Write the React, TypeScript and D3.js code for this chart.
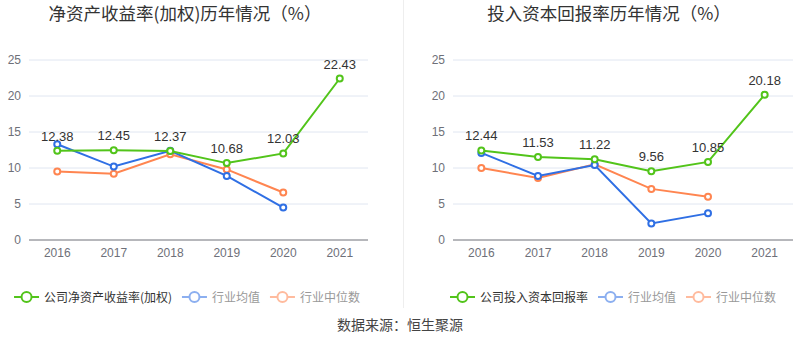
import React from "react";
import * as d3 from "d3";

const years = ["2016", "2017", "2018", "2019", "2020", "2021"];
const yTicks = [0, 5, 10, 15, 20, 25];

const roeCompany = [12.38, 12.45, 12.37, 10.68, 12.03, 22.43];
const roeMean = [13.3, 10.2, 12.4, 8.9, 4.5];
const roeMedian = [9.5, 9.2, 11.9, 9.8, 6.6];

const roicCompany = [12.44, 11.53, 11.22, 9.56, 10.85, 20.18];
const roicMean = [12.1, 8.9, 10.4, 2.3, 3.7];
const roicMedian = [10.0, 8.6, 10.5, 7.1, 6.0];

const GREEN = "#52c41a";
const BLUE = "#2f6fe4";
const ORANGE = "#ff8550";
const FONT = "'Liberation Sans', Arial, 'Noto Sans CJK SC', sans-serif";
const CJK = "'Noto Sans CJK SC', 'Liberation Sans', sans-serif";

function textW(s: string, size: number) {
  let w = 0;
  for (const ch of s) {
    w += /[\u0000-\u00ff]/.test(ch) ? size * 0.33 : size;
  }
  return w;
}

type ChartProps = {
  x0: number;
  x1: number;
  title: string;
  titleCx: number;
  legendCx: number;
  company: number[];
  mean: number[];
  median: number[];
  companyName: string;
};

function Chart({ x0, x1, title, titleCx, legendCx, company, mean, median, companyName }: ChartProps) {
  const x = d3.scaleBand<string>().domain(years).range([x0, x1]);
  const cx = (i: number) => (x(years[i]) as number) + x.bandwidth() / 2;
  const y = d3.scaleLinear().domain([0, 25]).range([240, 60]);
  const line = d3
    .line<number>()
    .x((_, i) => cx(i))
    .y((d) => y(d));

  const series = [
    { data: median, color: ORANGE },
    { data: mean, color: BLUE },
    { data: company, color: GREEN },
  ];

  const legendItems = [
    { name: companyName, color: GREEN, faded: false },
    { name: "行业均值", color: BLUE, faded: true },
    { name: "行业中位数", color: ORANGE, faded: true },
  ];
  const widths = legendItems.map((it) => 30 + textW(it.name, 12));
  const total = d3.sum(widths) + 10 * (legendItems.length - 1);
  let lx = legendCx - total / 2;
  const legendPos = widths.map((w) => {
    const p = lx;
    lx += w + 10;
    return p;
  });

  return (
    <g>
      <text x={titleCx} y={20} textAnchor="middle" fontSize={17.5} fill="#333" fontFamily={CJK}>
        {title}
      </text>
      {yTicks.map((t) => (
        <g key={t}>
          {t > 0 && <line x1={x0} x2={x1} y1={y(t)} y2={y(t)} stroke="#e0e6f1" strokeWidth={1} />}
          <text x={x0 - 8} y={y(t) + 4} textAnchor="end" fontSize={12} fill="#6e7079" fontFamily={FONT}>
            {t}
          </text>
        </g>
      ))}
      <line x1={x0} x2={x1} y1={y(0)} y2={y(0)} stroke="#6e7079" strokeWidth={1} />
      {years.map((yr, i) => (
        <text key={yr} x={cx(i)} y={257} textAnchor="middle" fontSize={12} fill="#6e7079" fontFamily={FONT}>
          {yr}
        </text>
      ))}
      {series.map((s, si) => (
        <g key={si}>
          <path d={line(s.data) || ""} fill="none" stroke={s.color} strokeWidth={2} />
          {s.data.map((v, i) => (
            <circle key={i} cx={cx(i)} cy={y(v)} r={3} fill="#fff" stroke={s.color} strokeWidth={2} />
          ))}
        </g>
      ))}
      {company.map((v, i) => (
        <text key={i} x={cx(i)} y={y(v) - 10} textAnchor="middle" fontSize={13} fill="#333" fontFamily={FONT}>
          {v.toFixed(2)}
        </text>
      ))}
      {legendItems.map((it, i) => (
        <g key={it.name} transform={`translate(${legendPos[i]},297)`}>
          <g opacity={it.faded ? 0.55 : 1}>
            <line x1={0} x2={25} y1={0} y2={0} stroke={it.color} strokeWidth={2} />
            <circle cx={12.5} cy={0} r={5} fill="#fff" stroke={it.color} strokeWidth={2} />
          </g>
          <text x={30} y={4.5} fontSize={12} fill={it.faded ? "#999" : "#333"} fontFamily={CJK}>
            {it.name}
          </text>
        </g>
      ))}
    </g>
  );
}

export default function App() {
  return (
    <svg width={800} height={358} style={{ position: "absolute", left: 0, top: 0, background: "#fff" }}>
      <rect x={0} y={0} width={800} height={358} fill="#fff" />
      <line x1={403.5} x2={403.5} y1={0} y2={308} stroke="#eeeeee" strokeWidth={1} />
      <Chart
        x0={29}
        x1={368}
        title="净资产收益率(加权)历年情况（%）"
        titleCx={185}
        legendCx={187}
        company={roeCompany}
        mean={roeMean}
        median={roeMedian}
        companyName="公司净资产收益率(加权)"
      />
      <Chart
        x0={453}
        x1={793}
        title="投入资本回报率历年情况（%）"
        titleCx={609}
        legendCx={613}
        company={roicCompany}
        mean={roicMean}
        median={roicMedian}
        companyName="公司投入资本回报率"
      />
      <text x={400} y={330} textAnchor="middle" fontSize={14} fill="#444" fontFamily={CJK}>
        数据来源：恒生聚源
      </text>
    </svg>
  );
}
